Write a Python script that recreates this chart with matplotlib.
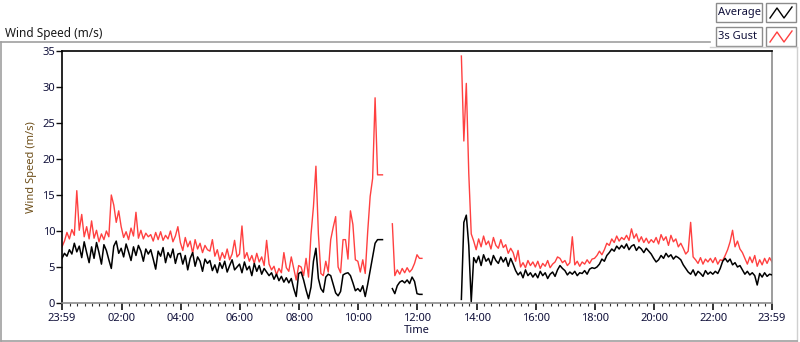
import matplotlib
matplotlib.use('Agg')
import matplotlib.pyplot as plt
import numpy as np
from matplotlib.lines import Line2D
from matplotlib.patches import Rectangle

nan = np.nan

# 5 minute samples, minutes after 23:59 of the previous day (one row = one hour)
step_minutes = 5

average = [
    6.2, 6.9, 6.5, 7.4, 6.8, 8.3, 7.1, 7.9, 6.3, 8.5, 7.0, 5.6,
    7.8, 6.2, 8.4, 7.0, 5.4, 8.1, 7.3, 6.0, 4.8, 7.9, 8.6, 6.9,
    7.6, 6.4, 8.2, 7.1, 5.9, 7.8, 6.6, 8.0, 7.2, 5.8, 7.5, 6.8,
    7.4, 6.1, 4.7, 7.2, 6.5, 7.7, 5.6, 7.0, 6.3, 7.5, 5.5, 6.8,
    6.9, 5.4, 6.6, 4.6, 6.2, 7.0, 5.1, 6.4, 5.8, 4.4, 6.1, 5.5,
    5.9, 4.5, 5.3, 4.2, 5.6, 4.8, 5.8, 4.3, 5.2, 6.0, 4.6, 5.0,
    5.4, 4.2, 5.7, 4.6, 5.1, 3.8, 5.5, 4.4, 5.2, 4.0, 4.8, 4.3,
    3.8, 4.2, 3.3, 4.0, 3.1, 3.7, 2.9, 3.5, 2.8, 3.4, 2.0, 0.9,
    4.1, 4.3, 3.2, 1.8, 0.6, 2.2, 5.8, 7.6, 3.4, 2.0, 1.5, 3.6,
    4.0, 3.8, 2.6, 1.4, 1.0, 1.6, 3.9, 4.1, 4.2, 3.8, 2.8, 1.7,
    2.0, 1.6, 2.4, 0.9, 2.6, 4.5, 6.4, 8.3, 8.8, 8.8, 8.8, nan,
    nan, nan, 2.0, 1.3, 2.4, 2.9, 3.1, 2.8, 3.2, 2.7, 3.6, 3.0,
    1.3, 1.2, 1.2, nan, nan, nan, nan, nan, nan, nan, nan, nan,
    nan, nan, nan, nan, nan, nan, 0.5, 11.2, 12.2, 8.0, 0.2, 6.3,
    5.6, 6.5, 5.2, 6.7, 5.8, 6.2, 5.3, 6.6, 5.9, 5.5, 6.4, 5.7,
    6.3, 5.1, 6.2, 5.4, 4.5, 3.9, 4.3, 3.5, 4.6, 3.8, 4.2, 3.6,
    4.1, 3.5, 4.4, 3.8, 4.2, 3.4, 4.0, 4.3, 3.7, 4.6, 5.2, 4.8,
    4.5, 3.9, 4.3, 4.0, 4.4, 3.8, 4.2, 4.1, 4.5, 4.0, 4.7, 4.9,
    4.8, 5.0, 5.4, 6.1, 5.8, 6.6, 7.0, 7.5, 7.2, 7.9, 7.5, 8.0,
    7.6, 8.2, 7.4, 7.9, 8.1, 7.3, 7.8, 7.5, 7.0, 7.6, 7.2, 6.8,
    6.2, 5.7, 6.0, 6.6, 6.2, 6.9, 6.4, 6.7, 6.1, 6.5, 6.3, 6.0,
    5.3, 4.8, 4.3, 4.0, 4.6, 3.8, 4.4, 4.1, 3.7, 4.5, 4.0, 4.3,
    4.0, 4.4, 4.1, 4.8, 5.8, 6.2, 5.7, 6.1, 5.3, 5.6, 5.0, 5.2,
    4.6, 4.0, 4.4, 3.9, 4.2, 3.8, 2.5, 4.1, 3.6, 4.2, 3.7, 4.0,
    3.9,
]

gust = [
    7.8, 8.6, 9.8, 8.9, 10.2, 9.4, 15.6, 10.1, 12.3, 9.2, 10.6, 8.9,
    11.4, 9.0, 10.1, 8.5, 9.6, 8.8, 10.0, 9.2, 15.0, 13.6, 11.2, 12.8,
    10.6, 9.1, 9.9, 8.8, 10.4, 9.3, 12.6, 9.0, 10.1, 8.9, 9.7, 9.2,
    9.5, 8.6, 9.8, 8.8, 9.9, 8.7, 9.4, 8.9, 10.0, 8.5, 9.3, 10.6,
    8.4, 7.3, 9.1, 7.8, 8.6, 6.9, 8.8, 7.5, 8.3, 7.0, 8.0, 7.4,
    7.2, 8.8, 6.5, 7.4, 5.9, 7.0, 6.2, 7.5, 6.0, 6.8, 8.7, 6.4,
    6.8, 10.7, 6.2, 7.0, 5.8, 6.6, 5.5, 6.9, 5.7, 6.4, 5.2, 8.7,
    5.4, 4.6, 5.1, 3.9, 4.8, 4.2, 7.0, 4.9, 4.4, 6.4, 4.8, 3.2,
    5.2, 5.0, 3.8, 6.2, 3.6, 9.5, 13.4, 19.0, 9.6, 4.1, 3.8, 5.8,
    4.3, 8.8, 10.5, 12.0, 5.0, 4.2, 8.8, 8.8, 6.1, 12.8, 10.9, 6.0,
    5.8, 4.3, 6.0, 4.1, 9.9, 14.8, 17.3, 28.5, 17.8, 17.8, 17.8, nan,
    nan, nan, 11.0, 3.8, 4.6, 4.0, 4.8, 4.2, 4.9, 4.3, 4.7, 5.5,
    6.7, 6.2, 6.2, nan, nan, nan, nan, nan, nan, nan, nan, nan,
    nan, nan, nan, nan, nan, nan, 34.3, 22.5, 30.5, 18.0, 9.6, 8.6,
    7.4, 8.9, 7.8, 9.3, 8.1, 8.6, 7.5, 9.1, 8.0, 7.6, 8.8, 7.7,
    8.1, 6.9, 7.6, 7.0, 5.8, 7.3, 5.0, 5.6, 4.9, 5.9, 5.2, 5.7,
    5.0, 5.8, 4.8, 5.5, 5.1, 5.9, 4.9, 5.4, 5.7, 6.4, 6.2, 5.6,
    5.9, 5.2, 5.6, 9.2, 5.3, 5.8, 5.1, 5.7, 5.4, 6.0, 5.5, 6.1,
    6.2, 6.6, 7.2, 6.7, 7.4, 8.3, 8.0, 8.9, 8.4, 9.3, 8.6, 9.1,
    8.8, 9.4, 8.7, 10.3, 9.0, 9.6, 8.5, 9.2, 8.4, 9.0, 8.3, 8.8,
    8.4, 9.1, 8.2, 9.5, 8.7, 9.2, 8.0, 9.4, 8.5, 8.9, 7.8, 8.3,
    7.6, 6.8, 7.2, 11.2, 6.4, 6.0, 5.5, 6.3, 5.4, 6.1, 5.7, 6.2,
    5.6, 6.3, 5.4, 6.0, 5.9, 6.6, 7.4, 8.5, 10.1, 7.8, 8.6, 7.5,
    7.0, 6.2, 5.4, 6.4, 5.6, 6.6, 5.1, 6.0, 5.3, 6.2, 5.5, 6.3,
    5.7,
]

tick_labels = ['23:59', '02:00', '04:00', '06:00', '08:00', '10:00', '12:00',
               '14:00', '16:00', '18:00', '20:00', '22:00', '23:59']
y_ticks = [0, 5, 10, 15, 20, 25, 30, 35]

FONT = 'Noto Sans'
plt.rcParams['font.family'] = [FONT, 'DejaVu Sans']

minutes = np.arange(len(average)) * step_minutes
# convert to hours of the day (23:59 -> -1/60)
hours = minutes / 60.0 - 1 / 60.0

W, H = 800, 342
fig = plt.figure(figsize=(W / 100, H / 100), dpi=100)

def px(x, y):
    return x / W, 1 - y / H

# outer frame of the graph panel
frame_color = '#a0a0a0'
fig.add_artist(Line2D([px(1, 0)[0], px(710, 0)[0]], [px(0, 42)[1]] * 2, color=frame_color, lw=1.2))
fig.add_artist(Line2D([px(1, 0)[0]] * 2, [px(0, 42)[1], px(0, 341)[1]], color=frame_color, lw=1.2))
fig.add_artist(Line2D([px(797, 0)[0]] * 2, [px(0, 47)[1], px(0, 341)[1]], color='#d0d0d0', lw=1.0))
fig.add_artist(Line2D([px(1, 0)[0], px(797, 0)[0]], [px(0, 341)[1]] * 2, color=frame_color, lw=1.2))
fig.add_artist(Line2D([px(710, 0)[0], px(797, 0)[0]], [px(0, 47)[1]] * 2, color='#d0d0d0', lw=1.0))

fig.text(px(5, 0)[0], px(0, 37)[1], 'Wind Speed (m/s)', fontsize=8.5, color='#1a1a1a', va='baseline')

# legend (LabVIEW style: name box + plot sample box)
series_style = [('Average', 'black'), ('3s Gust', '#ff4040')]
for i, (name, color) in enumerate(series_style):
    top = 3 + i * 24
    x0, y0 = px(716, top + 19)
    w, h = 46 / W, 19 / H
    fig.add_artist(Rectangle((x0, y0), w, h, transform=fig.transFigure,
                             facecolor='white', edgecolor='#8c8c8c', lw=1.0))
    fig.text(x0 + 2 / W, y0 + h / 2, name, fontsize=8, color='#10103a', va='center', ha='left')
    sx, sy = px(766, top + 19)
    fig.add_artist(Rectangle((sx, sy), 30 / W, h, transform=fig.transFigure,
                             facecolor='white', edgecolor='#8c8c8c', lw=1.0))
    zx = [770, 777, 784, 792]
    zy = [top + 15, top + 5, top + 15, top + 4]
    fig.add_artist(Line2D([px(x, 0)[0] for x in zx], [px(0, y)[1] for y in zy],
                          color=color, lw=1.0))

ax = fig.add_axes([62 / W, 1 - 303 / H, (772 - 62) / W, (303 - 51) / H])
ax.plot(hours, average, color='black', lw=1.1, zorder=3)
ax.plot(hours, gust, color='#ff4040', lw=1.0, zorder=2)

ax.set_xlim(-1 / 60, 24 - 1 / 60)
ax.set_ylim(0, 35)

major = [-1 / 60] + list(range(2, 24, 2)) + [24 - 1 / 60]
ax.set_xticks(major, labels=tick_labels)
ax.set_xticks(np.arange(0.25, 24, 0.25), minor=True)
ax.set_yticks(y_ticks, labels=[str(v) for v in y_ticks])

ax.tick_params(axis='both', which='major', labelsize=8, colors='#101010', labelcolor='#10103a')
ax.tick_params(axis='y', which='major', length=4, width=1, pad=1)
ax.tick_params(axis='x', which='major', length=5, width=1.2, pad=2)
ax.tick_params(axis='x', which='minor', length=2.5, width=0.8, color='#303030')

for side in ('left', 'top'):
    ax.spines[side].set_color('black')
    ax.spines[side].set_linewidth(1.2)
for side in ('right', 'bottom'):
    ax.spines[side].set_color('#8c8c8c')
    ax.spines[side].set_linewidth(1.2)

ax.set_xlabel('Time', fontsize=8, color='#10103a', labelpad=1)
ax.set_ylabel('Wind Speed (m/s)', fontsize=8, color='#6e4f1a', labelpad=4)
ax.yaxis.set_label_coords(-0.035, 0.54)

fig.savefig('out.png', dpi=100)
